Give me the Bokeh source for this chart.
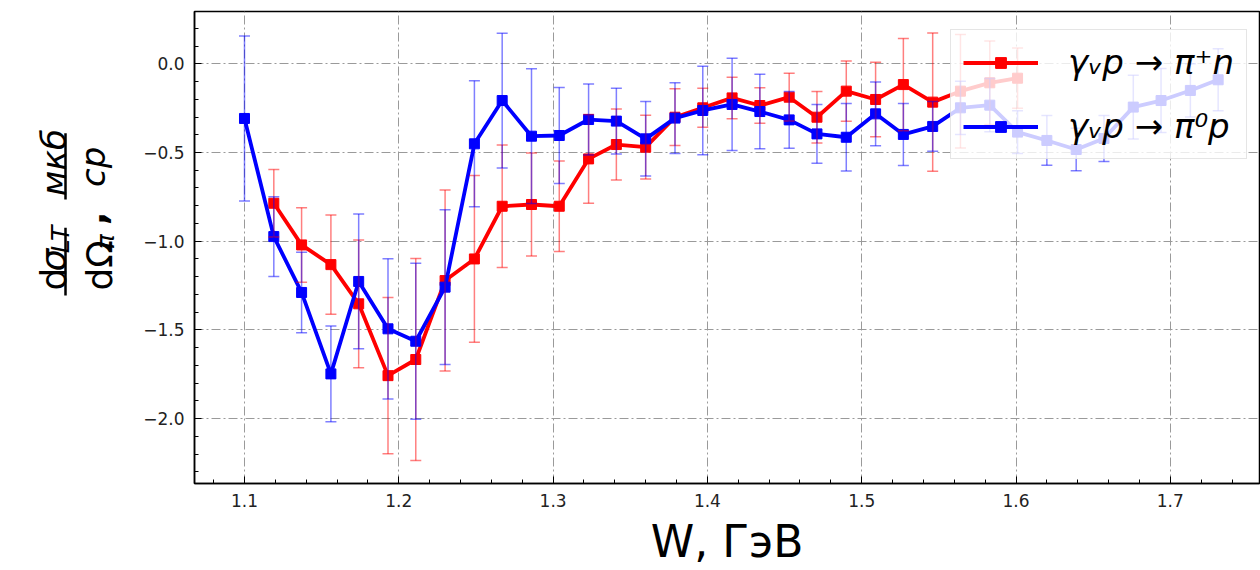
import math
from bokeh.plotting import figure
from bokeh.layouts import row
from bokeh.models import (Whisker, TeeHead, ColumnDataSource, FixedTicker, Label,
                          CustomJSTickFormatter, Legend, LegendItem, Range1d)
from bokeh.embed import file_html
from bokeh.resources import INLINE

# ---- data ----
W = [1.100, 1.119, 1.137, 1.156, 1.174, 1.193, 1.211, 1.230, 1.249, 1.267, 1.286, 1.304,
     1.323, 1.341, 1.360, 1.379, 1.397, 1.416, 1.434, 1.453, 1.471, 1.490, 1.509, 1.527,
     1.546, 1.564, 1.583, 1.601, 1.620, 1.639, 1.657, 1.676, 1.694, 1.713, 1.731]

W_pip = W[1:28]
sig_pip = [-0.786, -1.021, -1.132, -1.353, -1.758, -1.667, -1.222, -1.100, -0.803, -0.793,
           -0.803, -0.536, -0.455, -0.470, -0.301, -0.248, -0.192, -0.235, -0.188, -0.301,
           -0.154, -0.201, -0.117, -0.216, -0.154, -0.107, -0.081]
err_pip = [0.19, 0.21, 0.28, 0.36, 0.44, 0.57, 0.51, 0.47, 0.345, 0.29, 0.255, 0.25, 0.20,
           0.18, 0.16, 0.11, 0.117, 0.10, 0.135, 0.145, 0.17, 0.21, 0.26, 0.39, 0.32, 0.235, 0.17]

W_pi0 = W
sig_pi0 = [-0.308, -0.974, -1.289, -1.748, -1.227, -1.494, -1.564, -1.259, -0.451, -0.207,
           -0.408, -0.404, -0.314, -0.323, -0.423, -0.306, -0.263, -0.229, -0.269, -0.316,
           -0.395, -0.414, -0.282, -0.398, -0.353, -0.248, -0.233, -0.385, -0.432, -0.483,
           -0.421, -0.244, -0.207, -0.150, -0.090]
err_pi0 = [0.465, 0.225, 0.227, 0.27, 0.38, 0.395, 0.44, 0.436, 0.355, 0.38, 0.38, 0.27, 0.20,
           0.185, 0.21, 0.20, 0.25, 0.26, 0.21, 0.16, 0.165, 0.19, 0.18, 0.175, 0.14, 0.15,
           0.15, 0.12, 0.14, 0.12, 0.13, 0.18, 0.18, 0.15, 0.175]

x_ticks = [1.1, 1.2, 1.3, 1.4, 1.5, 1.6, 1.7]
x_minor = [1.08, 1.12, 1.14, 1.16, 1.18, 1.22, 1.24, 1.26, 1.28, 1.32, 1.34, 1.36, 1.38,
           1.42, 1.44, 1.46, 1.48, 1.52, 1.54, 1.56, 1.58, 1.62, 1.64, 1.66, 1.68, 1.72, 1.74]
y_ticks = [-2.0, -1.5, -1.0, -0.5, 0.0]
y_minor = [-2.3, -2.2, -2.1, -1.9, -1.8, -1.7, -1.6, -1.4, -1.3, -1.2, -1.1, -0.9, -0.8,
           -0.7, -0.6, -0.4, -0.3, -0.2, -0.1, 0.1, 0.2]

labels = ["\u03b3\u1d65p \u2192 \u03c0\u207an", "\u03b3\u1d65p \u2192 \u03c0\u2070p"]
x_title = "W, \u0413\u044d\u0412"

RED = "#ff0000"
BLUE = "#0000ff"
FONT = "DejaVu Sans"
H = 570

# ---------------- main plot ----------------
p = figure(width=1140, height=H, output_backend="svg", toolbar_location=None,
           x_range=Range1d(1.0676, 1.7578), y_range=Range1d(-2.366, 0.295),
           min_border_left=74, min_border_right=1, min_border_top=11, min_border_bottom=87)
p.background_fill_color = "white"
p.border_fill_color = "white"
p.outline_line_color = "black"
p.outline_line_width = 1.5
p.outline_line_alpha = 1.0

for ax in (p.xaxis[0], p.yaxis[0]):
    ax.axis_line_color = "black"
    ax.axis_line_width = 1.5
    ax.major_tick_in = 7
    ax.major_tick_out = 0
    ax.minor_tick_in = 4
    ax.minor_tick_out = 0
    ax.major_tick_line_color = "black"
    ax.minor_tick_line_color = "black"
    ax.major_label_text_font = FONT
    ax.major_label_text_font_size = "17px"
    ax.major_label_text_color = "#222222"
    ax.major_label_standoff = 10

p.xaxis.ticker = FixedTicker(ticks=x_ticks, minor_ticks=x_minor)
p.yaxis.ticker = FixedTicker(ticks=y_ticks, minor_ticks=y_minor)
p.xaxis.formatter = CustomJSTickFormatter(code="return tick.toFixed(1);")
p.yaxis.formatter = CustomJSTickFormatter(code="return tick.toFixed(1).replace('-', '\u2212');")
p.xaxis.axis_label = x_title
p.xaxis.axis_label_text_font = FONT
p.xaxis.axis_label_text_font_size = "44px"
p.xaxis.axis_label_text_font_style = "normal"
p.xaxis.axis_label_text_color = "black"
p.xaxis.axis_label_standoff = 6

for g in (p.xgrid[0], p.ygrid[0]):
    g.grid_line_color = "#9a9a9a"
    g.grid_line_dash = "9 3 2 3"
    g.grid_line_width = 1

src_pip = ColumnDataSource(dict(x=W_pip, y=sig_pip,
                                lo=[a - b for a, b in zip(sig_pip, err_pip)],
                                hi=[a + b for a, b in zip(sig_pip, err_pip)]))
src_pi0 = ColumnDataSource(dict(x=W_pi0, y=sig_pi0,
                                lo=[a - b for a, b in zip(sig_pi0, err_pi0)],
                                hi=[a + b for a, b in zip(sig_pi0, err_pi0)]))

for src, col in ((src_pip, RED), (src_pi0, BLUE)):
    wk = Whisker(base="x", lower="lo", upper="hi", source=src, line_color=col, line_alpha=0.5,
                 line_width=1.5,
                 upper_head=TeeHead(size=11, line_color=col, line_alpha=0.5, line_width=1.5),
                 lower_head=TeeHead(size=11, line_color=col, line_alpha=0.5, line_width=1.5))
    wk.level = "glyph"
    p.add_layout(wk)

l_pip = p.line("x", "y", source=src_pip, line_color=RED, line_width=3.8)
s_pip = p.scatter("x", "y", source=src_pip, marker="square", size=10, fill_color=RED, line_color=RED)
l_pi0 = p.line("x", "y", source=src_pi0, line_color=BLUE, line_width=3.8)
s_pi0 = p.scatter("x", "y", source=src_pi0, marker="square", size=10, fill_color=BLUE, line_color=BLUE)

leg = Legend(items=[LegendItem(label=labels[0], renderers=[l_pip, s_pip]),
                    LegendItem(label=labels[1], renderers=[l_pi0, s_pi0])],
             location=(756, 324))
leg.label_text_font = FONT
leg.label_text_font_style = "italic"
leg.label_text_font_size = "34px"
leg.label_text_color = "black"
leg.glyph_width = 75
leg.glyph_height = 27
leg.label_height = 40
leg.label_standoff = 30
leg.padding = 12
leg.spacing = 24
leg.margin = 0
leg.background_fill_alpha = 0.8
leg.border_line_color = "#cccccc"
leg.border_line_width = 1
p.add_layout(leg, "center")

# ---------------- y-axis title panel (rotated fraction) ----------------
lp = figure(width=120, height=H, output_backend="svg", toolbar_location=None,
            x_axis_type=None, y_axis_type=None,
            x_range=Range1d(0, 120), y_range=Range1d(0, H),
            min_border_left=0, min_border_right=0, min_border_top=0, min_border_bottom=0)
lp.grid.visible = False
lp.outline_line_color = None
lp.background_fill_color = "white"
lp.border_fill_color = "white"

def lab(x, y_top, text, size, style="normal"):
    lp.add_layout(Label(x=x, y=H - y_top, text=text, angle=math.pi / 2, angle_units="rad",
                        text_font=FONT, text_font_size=size, text_font_style=style,
                        text_align="left", text_baseline="alphabetic", text_color="black"))

lab(53, 337, "d", "36px")
lab(53, 314, "\u03c3", "36px", "italic")
lab(60, 292, "LT", "25px", "italic")
lab(99, 337, "d\u03a9", "36px")
lab(105, 287, "\u03c0", "25px", "italic")
lab(92, 258, ",", "36px", "bold")
lab(53, 223, "\u043c\u043a\u0431", "34px", "italic")
lab(92, 212, "\u0441\u0440", "34px", "italic")
lp.segment(x0=[65, 65], y0=[H - 261, H - 147], x1=[65, 65], y1=[H - 343, H - 227],
           line_color="black", line_width=2.5)

layout = row(lp, p, spacing=0)
open("out.html", "w").write(file_html(layout, INLINE))
